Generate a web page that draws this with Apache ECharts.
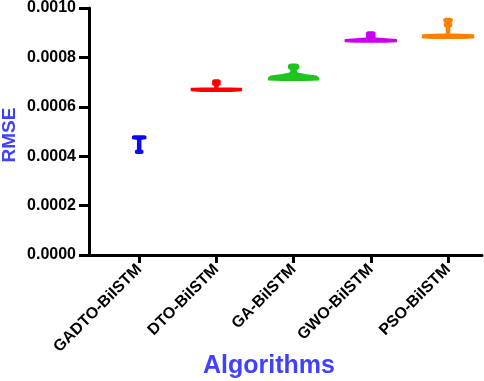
<!DOCTYPE html>
<html>
<head>
<meta charset="utf-8">
<script src="https://cdn.jsdelivr.net/npm/echarts@6/dist/echarts.min.js"></script>
<style>
  html, body { margin: 0; padding: 0; background: #fff; }
  #chart { width: 484px; height: 381px; }
</style>
</head>
<body>
<div id="chart"></div>
<script>
// categories
var algorithms = ['GADTO-BiISTM', 'DTO-BiISTM', 'GA-BiISTM', 'GWO-BiISTM', 'PSO-BiISTM'];
var colors = ['#0a0af5', '#ff0000', '#1fc41f', '#cc00ee', '#ff8000'];

// violin outlines: RMSE levels (top -> bottom) and relative density at each level
var gadtoRmse    = [0.000482, 0.000480, 0.000472, 0.000469, 0.000425, 0.000421, 0.000414, 0.000412];
var gadtoDensity = [0.20,     0.26,     0.26,     0.06,     0.06,     0.14,     0.14,     0.08];

var dtoRmse    = [0.000708, 0.000705, 0.000690, 0.000686, 0.000676, 0.000674, 0.000666, 0.000663];
var dtoDensity = [0.10,     0.14,     0.14,     0.06,     0.06,     1.00,     1.00,     0.60];

var gaRmse    = [0.000772, 0.000768, 0.000758, 0.000746, 0.000736, 0.000730, 0.000724, 0.000716, 0.000710, 0.000707];
var gaDensity = [0.12,     0.20,     0.20,     0.08,     0.16,     0.45,     0.90,     1.00,     1.00,     0.50];

var gwoRmse    = [0.000903, 0.000900, 0.000883, 0.000879, 0.000871, 0.000864, 0.000862];
var gwoDensity = [0.10,     0.16,     0.16,     0.06,     1.02,     1.02,     0.60];

var psoRmse    = [0.000957, 0.000955, 0.000946, 0.000940, 0.000936, 0.000927, 0.000923, 0.000895, 0.000891, 0.000880, 0.000878];
var psoDensity = [0.10,     0.16,     0.16,     0.05,     0.14,     0.14,     0.06,     0.06,     1.02,     1.02,     0.60];

var profiles = [
  [gadtoRmse, gadtoDensity],
  [dtoRmse, dtoDensity],
  [gaRmse, gaDensity],
  [gwoRmse, gwoDensity],
  [psoRmse, psoDensity]
];

var font = '"Liberation Sans", Arial, sans-serif';
var halfMax = 25; // px half width for density 1

var chart = echarts.init(document.getElementById('chart'));

var option = {
  animation: false,
  grid: { left: 89, right: 2, top: 7, bottom: 126, containLabel: false },
  xAxis: {
    type: 'value',
    min: 0.35,
    max: 5.44,
    splitLine: { show: false },
    axisLine: { show: true, lineStyle: { color: '#000', width: 3 } },
    axisTick: { show: true, customValues: [1, 2, 3, 4, 5], length: 8, lineStyle: { color: '#000', width: 3 } },
    axisLabel: {
      customValues: [1, 2, 3, 4, 5],
      rotate: 45,
      margin: 12,
      color: '#000',
      fontFamily: font,
      fontWeight: 'bold',
      fontSize: 16,
      formatter: function (v) { return algorithms[Math.round(v) - 1] || ''; }
    }
  },
  yAxis: {
    type: 'value',
    min: 0,
    max: 0.001,
    interval: 0.0002,
    splitLine: { show: false },
    axisLine: { show: true, lineStyle: { color: '#000', width: 3 } },
    axisTick: { show: true, length: 10, lineStyle: { color: '#000', width: 3 } },
    axisLabel: {
      margin: 13,
      color: '#000',
      fontFamily: font,
      fontWeight: 'bold',
      fontSize: 16,
      formatter: function (v) { return v.toFixed(4); }
    }
  },
  graphic: [
    {
      type: 'text',
      x: 10, y: 135,
      rotation: Math.PI / 2,
      style: {
        text: 'RMSE', fill: '#4040ff', font: 'bold 19px ' + font,
        align: 'center', verticalAlign: 'middle'
      }
    },
    {
      type: 'text',
      x: 269, y: 366,
      style: {
        text: 'Algorithms', fill: '#4040ff', font: 'bold 25px ' + font,
        align: 'center', verticalAlign: 'middle'
      }
    }
  ],
  series: [{
    type: 'custom',
    clip: false,
    data: algorithms.map(function (name, i) { return [i + 1, profiles[i][0][0]]; }),
    encode: { x: 0, y: 1 },
    renderItem: function (params, api) {
      var idx = params.dataIndex;
      var lv = profiles[idx][0], dn = profiles[idx][1];
      var right = [], left = [];
      for (var k = 0; k < lv.length; k++) {
        var c = api.coord([idx + 1, lv[k]]);
        right.push([c[0] + dn[k] * halfMax, c[1]]);
        left.unshift([c[0] - dn[k] * halfMax, c[1]]);
      }
      return {
        type: 'polygon',
        shape: { points: right.concat(left) },
        style: { fill: colors[idx], stroke: colors[idx], lineWidth: 1.5, lineJoin: 'round' }
      };
    }
  }]
};

chart.setOption(option);
</script>
</body>
</html>
